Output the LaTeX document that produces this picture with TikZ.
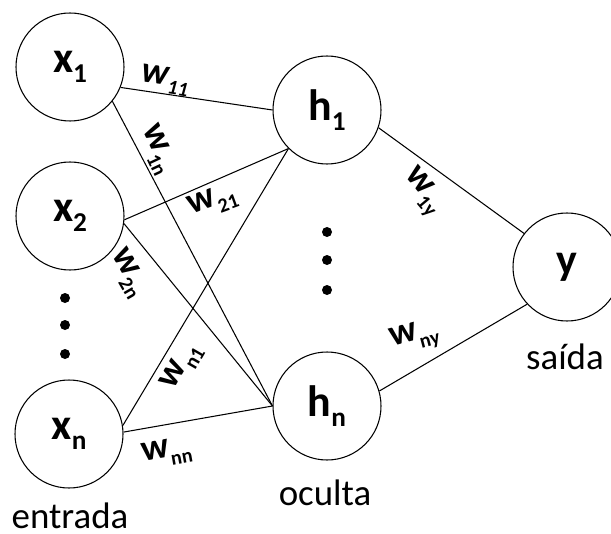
\documentclass[tikz,border=0pt]{standalone}
\usepackage{fontspec}
\setmainfont{Carlito}
\usetikzlibrary{positioning,calc}

\newcommand\idx[1]{\raisebox{-0.45ex}{\scalebox{0.62}{#1}}}
\newcommand\widx[1]{\raisebox{-0.5ex}{\scalebox{0.55}{#1}}}

\begin{document}
\begin{tikzpicture}
[draw=black, line width=0.6pt,
neuron/.style={circle,draw=black,minimum size=2.16cm,inner sep=0pt,font=\fontsize{25}{28}\selectfont\bfseries},
weight/.style={inner sep=1pt,font=\fontsize{21}{24}\selectfont\bfseries},
layer/.style={inner sep=1pt,font=\fontsize{21}{24}\selectfont},
dotnode/.style={circle,fill=black,inner sep=0pt,minimum size=0.2cm}
]

\def \inx {1.40}
\def \hidx {6.54}
\def \outx {11.34}

\useasboundingbox (0,0) rectangle (12.22,-10.66);

% Input Nodes
\node[neuron] (x1) at (\inx,-1.34) {x\idx{1}};
\node[neuron] (x2) at (\inx,-4.32) {x\idx{2}};
\node[neuron] (xn) at (\inx-0.02,-8.68) {x\idx{n}};

% Hidden Nodes
\node[neuron] (h1) at (\hidx,-2.20) {h\idx{1}};
\node[neuron] (hn) at (\hidx,-8.12) {h\idx{n}};

% Output Node
\node[neuron] (y) at (\outx,-5.34) {y};

% Dots
\foreach \c/\l in {-5.96/1, -6.50/2, -7.08/3} {
  \node[dotnode] (xdot\l) at (\inx-0.10,\c) {};
}
\foreach \c/\l in {-4.64/1, -5.20/2, -5.80/3} {
  \node[dotnode] (hdot\l) at (\hidx,\c) {};
}

% Edges
\foreach \a/\b in {x1.-22/h1.west, x1.-39/hn.west, x2.-4/h1.south west, x2.-8/hn.west,
                   xn.9/h1.south west, xn.2/hn.west, h1.-19/y.142, hn.16/y.223} {
  \draw (\a) -- (\b);
}

% Weights
\node[weight,rotate=-8] (w11) at (3.30,-1.60) {\itshape w\widx{11}};
\node[weight,rotate=-65] (w1n) at (3.14,-3.00) {w\widx{1n}};
\node[weight,rotate=20] (w21) at (4.26,-4.04) {w\widx{21}};
\node[weight,rotate=-60] (w2n) at (2.56,-5.46) {w\widx{2n}};
\node[weight,rotate=60] (wn1) at (3.64,-7.34) {w\widx{n1}};
\node[weight,rotate=10] (wnn) at (3.34,-9.06) {w\widx{nn}};
\node[weight,rotate=-50] (w1y) at (8.44,-3.84) {w\widx{1y}};
\node[weight,rotate=15] (wny) at (8.30,-6.76) {w\widx{ny}};

% Layer names
\node[layer] (entrada) at (\inx,-10.32) {entrada};
\node[layer] (oculta) at (6.50,-9.86) {oculta};
\node[layer] (saida) at (11.30,-7.14) {saída};
\end{tikzpicture}
\end{document}
